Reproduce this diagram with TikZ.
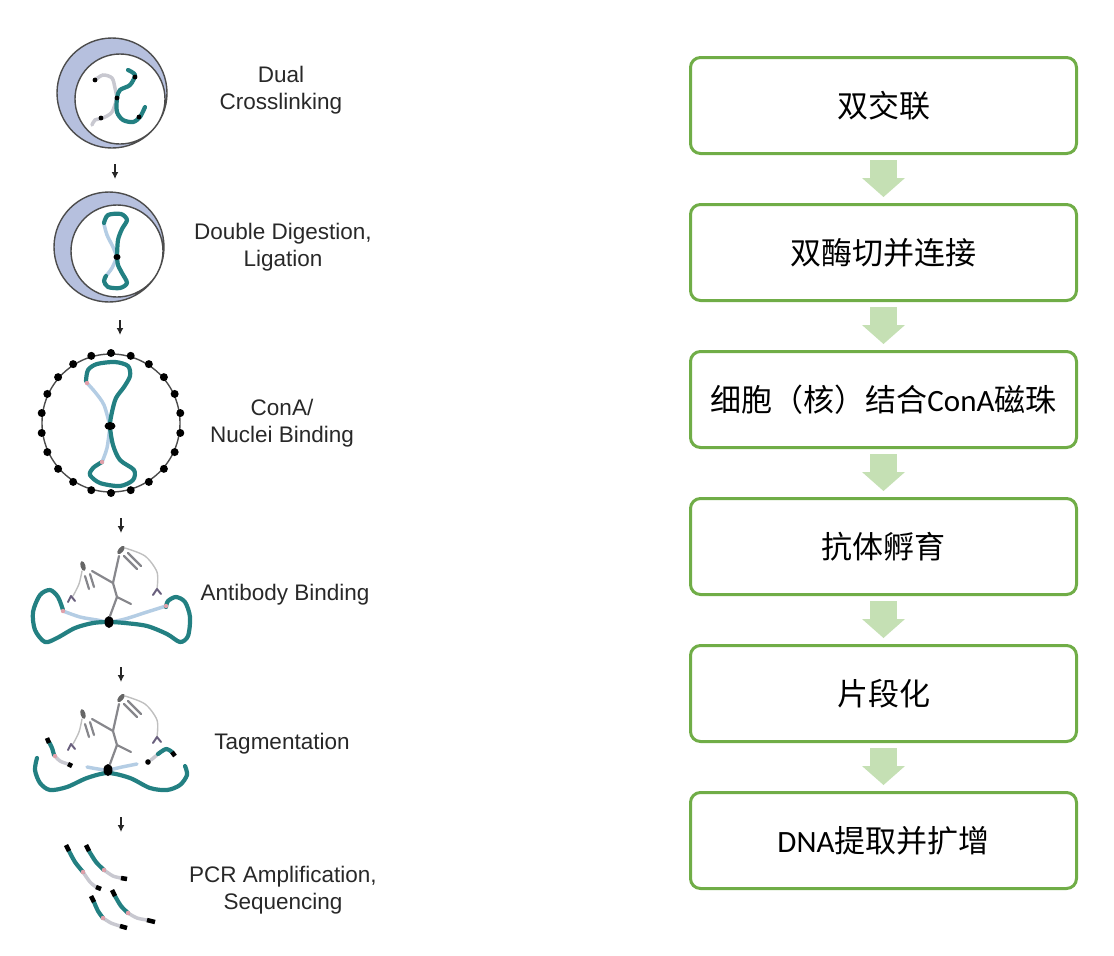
\documentclass[tikz,border=0pt]{standalone}
\usepackage{fontspec}
\setmainfont{Liberation Sans}
\newfontfamily\cjk{Noto Sans CJK SC}
\newfontfamily\calibri{Carlito}
\usetikzlibrary{arrows.meta, positioning}

\definecolor{boxgreen}{RGB}{112,173,71}
\definecolor{arrowgreen}{RGB}{197,224,180}
\definecolor{textgray}{RGB}{40,40,40}
\definecolor{dnateal}{RGB}{35,128,130}
\definecolor{strandblue}{RGB}{180,205,228}
\definecolor{strandgray}{RGB}{200,200,208}
\definecolor{crescent}{RGB}{182,192,222}
\definecolor{abgray}{RGB}{135,135,140}
\definecolor{tnpurple}{RGB}{105,95,125}
\definecolor{nickpink}{RGB}{225,160,170}

\tikzset{
  stepbox/.style={draw=boxgreen, line width=3pt, rounded corners=10pt, outer sep=0pt,
    minimum width=386pt, minimum height=96pt, font=\cjk\fontsize{31}{31}\selectfont},
  flow/.style={draw=arrowgreen, line width=27pt,
    -{Triangle[width=43pt, length=19pt, line width=0pt]}},
  lbl/.style={font=\fontsize{22.5}{27}\selectfont, text=textgray, align=center},
  smalldown/.style={-{Latex[length=7pt, width=7pt]}, line width=1.6pt, black!85},
  cell/.style={draw=black!70, line width=1.4pt},
  dna/.style={draw=dnateal, line width=4.2pt, line cap=round, line join=round},
  loose/.style={draw=strandblue, line width=3.5pt, line cap=round},
  faint/.style={draw=strandgray, line width=3.5pt, line cap=round},
  ab/.style={draw=abgray, line width=2.2pt, line cap=round},
  tether/.style={draw=black!25, line width=1.4pt, line cap=round},
  tnmark/.style={draw=tnpurple, line width=2pt, line cap=round, line join=round},
  endbit/.style={draw=black, line width=4.5pt}
}

\begin{document}
\begin{tikzpicture}[x=1pt, y=-1pt]
\useasboundingbox (0,0) rectangle (1114,956);

% flow chart
\node[stepbox] (s1) at (883.5,105.5) {双交联};
\node[stepbox, below=51pt of s1] (s2) {双酶切并连接};
\node[stepbox, below=51pt of s2] (s3) {细胞（核）结合{\calibri ConA}磁珠};
\node[stepbox, below=51pt of s3] (s4) {抗体孵育};
\node[stepbox, below=51pt of s4] (s5) {片段化};
\node[stepbox, below=51pt of s5] (s6) {{\calibri DNA}提取并扩增};

\foreach \a/\b in {s1/s2, s2/s3, s3/s4, s4/s5, s5/s6}
  \draw[flow] ([yshift=-6.5pt]\a.south) -- ([yshift=7.5pt]\b.north);

% labels
\node[lbl] (t1) at (281,90) {Dual\\Crosslinking};
\node[lbl] (t2) at (283,247) {Double Digestion,\\Ligation};
\node[lbl] (t3) at (282,423) {ConA/\\Nuclei Binding};
\node[lbl] (t4) at (285,595) {Antibody Binding};
\node[lbl] (t5) at (282,744) {Tagmentation};
\node[lbl] (t6) at (283,890) {PCR Amplification,\\Sequencing};

\foreach \i/\x/\y in {1/115/164, 2/120/320, 3/121/518, 4/121/667, 5/121/817} {
  \coordinate (a\i) at (\x,\y);
  \coordinate (b\i) at (\x,\y+15);
  \draw[smalldown] (a\i) -- (b\i);
}

% dual crosslinking
\fill[crescent] (112,93) circle (55pt);
\fill[white] (120,99) circle (45pt);
\draw[cell] (112,93) circle (55pt) (120,99) circle (45pt);
\draw[faint] plot[smooth] coordinates {(95,80) (103,75) (112,78) (115,88) (117,98)};
\draw[faint] plot[smooth] coordinates {(117,98) (112,112) (103,118) (95,120) (92,125)};
\draw[dna] plot[smooth] coordinates {(128,70) (135,75) (130,85) (120,90) (117,98) (117,112) (123,120) (133,122) (140,117) (145,107)};
\foreach \p in {(95,80), (135,77), (117,98), (101,118), (139,117)}
  \fill \p circle (2.4pt);

% double digestion, ligation
\fill[crescent] (109,247) circle (55pt);
\fill[white] (117,251) circle (46pt);
\draw[cell] (109,247) circle (55pt) (117,251) circle (46pt);
\draw[loose] plot[smooth] coordinates {(104,224) (107,235) (113,247) (117,257)};
\draw[loose] plot[smooth] coordinates {(117,257) (112,268) (106,276)};
\draw[dna] plot[smooth] coordinates {(104,223) (108,215) (121,214) (127,220) (122,229) (118,240) (117,257)};
\draw[dna] plot[smooth] coordinates {(106,276) (104,281) (108,287) (120,288) (127,283) (122,273) (118,265) (117,257)};
\fill (117,257) ellipse (3.5pt and 3pt);

% ConA / nuclei binding
\draw[cell] (111,423) circle (69pt);
\foreach \k in {0,...,21}
  \fill[shift={(111,423)}] (\k*360/22+90:70pt) circle (4pt);
\draw[loose] plot[smooth] coordinates {(86,382) (95,392) (104,405) (110,426)};
\draw[loose] plot[smooth] coordinates {(110,426) (107,448) (102,462)};
\draw[dna] plot[smooth] coordinates {(86,381) (88,370) (97,364) (115,362) (128,366) (130,376) (124,387) (116,398) (112,412) (110,426) (113,445) (120,460) (134,470) (133,480) (120,486) (100,483) (90,475) (93,468) (102,462)};
\fill (110,426) ellipse (5.5pt and 4pt);
\fill[nickpink] (87,383) circle (2.2pt) (102,462) circle (2.2pt);

% antibody binding
\draw[loose] plot[smooth] coordinates {(63,611) (80,617) (97,620) (109,622) (125,619) (147,612) (166,606)};
\draw[dna] plot[smooth] coordinates {(63,610) (58,597) (50,590) (40,595) (33,612) (35,630) (45,642) (57,638) (75,628) (93,623) (109,622) (125,623) (147,626) (167,634) (180,642) (188,636) (190,617) (185,602) (176,597) (168,601) (166,607)};
\fill[nickpink] (63,611) circle (2.2pt) (166,606) circle (2.2pt);
\fill (109,622) ellipse (4.5pt and 6pt);

% antibodies, pA-Tn5 (twice)
\foreach \dy in {0,148} {
  \begin{scope}[shift={(0,\dy)}]
    \draw[ab] (110,616) -- (117,597) -- (131,604);
    \draw[ab] (117,597) -- (113,583) -- (92,571);
    \draw[ab] (113,583) -- (119,556);
    \draw[ab] (124,556) -- (137,569);
    \draw[ab] (128,553) -- (141,566);
    \draw[ab] (85,576) -- (89,589);
    \draw[ab] (90,574) -- (94,587);
    \fill[black!60, rotate around={-40:(121,550)}] (121,550) ellipse (2.5pt and 5pt);
    \fill[black!60, rotate around={15:(83,566)}] (83,566) ellipse (2.5pt and 5pt);
    \draw[tether] plot[smooth] coordinates {(82,571) (79,584) (73,596)};
    \draw[tether] plot[smooth] coordinates {(125,548) (145,556) (157,572) (157,589)};
    \draw[tnmark] (68,602) -- (71,596) -- (75,601);
    \draw[tnmark] (153,595) -- (157,589) -- (161,594);
  \end{scope}
}

% tagmentation
\draw[loose] plot[smooth] coordinates {(87,767) (98,769) (108,770) (122,767) (137,764)};
\draw[dna] plot[smooth] coordinates {(37,758) (35,770) (40,783) (50,790) (67,787) (87,778) (108,773) (130,778) (150,788) (167,790) (180,785) (187,775) (185,766)};
\fill (108,770) ellipse (4.5pt and 6pt);
\draw[faint] plot[smooth] coordinates {(54,755) (60,761) (68,764)};
\draw[dna] plot[smooth] coordinates {(49,742) (52,748) (54,755)};
\draw[endbit] (47,738) -- (49,743);
\draw[endbit] (68,764) -- (72,766);
\fill[nickpink] (55,756) circle (2.2pt);
\draw[faint] (157,755) -- (151,760);
\draw[dna] plot[smooth] coordinates {(158,754) (166,749) (172,752)};
\draw[endbit] (172,752) -- (175,756);
\fill (148,762) circle (2.8pt);

% PCR fragments
\draw[faint] plot[smooth] coordinates {(83,872) (90,882) (96,887)};
\draw[dna] plot[smooth] coordinates {(69,851) (75,862) (83,872)};
\draw[endbit] (66,845) -- (69,851) (96,887) -- (101,889);
\draw[faint] plot[smooth] coordinates {(104,870) (113,876) (121,878)};
\draw[dna] plot[smooth] coordinates {(89,851) (96,862) (104,870)};
\draw[endbit] (86,845) -- (89,851) (121,878) -- (127,879);
\draw[faint] plot[smooth] coordinates {(103,918) (111,923) (120,926)};
\draw[dna] plot[smooth] coordinates {(94,902) (98,911) (103,918)};
\draw[endbit] (91,896) -- (94,902) (120,926) -- (127,928);
\draw[faint] plot[smooth] coordinates {(128,913) (137,918) (147,920)};
\draw[dna] plot[smooth] coordinates {(115,896) (121,906) (128,913)};
\draw[endbit] (112,890) -- (115,896) (147,920) -- (155,922);
\fill[nickpink] (83,872) circle (2.2pt) (104,870) circle (2.2pt) (103,918) circle (2.2pt) (128,913) circle (2.2pt);

\end{tikzpicture}
\end{document}
